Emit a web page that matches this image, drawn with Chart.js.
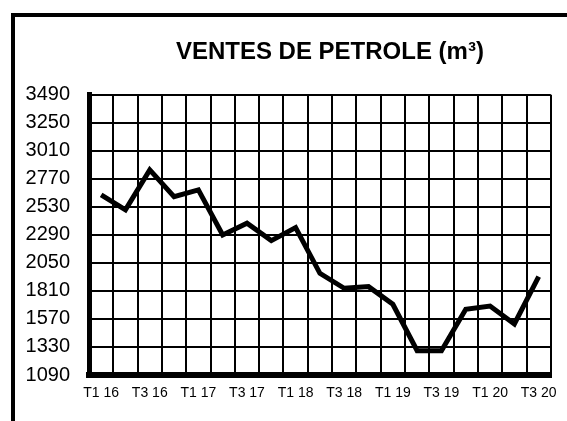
<!DOCTYPE html>
<html>
<head>
    <title>Ventes de petrole</title>
    <script src="https://cdn.jsdelivr.net/npm/chart.js@4.4.1/dist/chart.umd.min.js"></script>
    <style>
        body { margin: 0; background: #fff; }
        #wrap { position: relative; width: 567px; height: 421px; overflow: hidden; }
        #frame { position: absolute; left: 11px; top: 13px; right: -10px; bottom: -10px;
                 border-left: 4px solid #000; border-top: 4px solid #000; }
        #chart { position: absolute; left: 0; top: 0; }
    </style>
</head>
<body>
    <div id="wrap">
        <div id="frame"></div>
        <canvas id="chart" width="567" height="421"></canvas>
    </div>

    <script>
        // trimestres T1 16 .. T3 20
        var quarters = ['T1 16', 'T2 16', 'T3 16', 'T4 16',
                        'T1 17', 'T2 17', 'T3 17', 'T4 17',
                        'T1 18', 'T2 18', 'T3 18', 'T4 18',
                        'T1 19', 'T2 19', 'T3 19', 'T4 19',
                        'T1 20', 'T2 20', 'T3 20'];
        // ventes en m3
        var sales = [2633, 2504, 2847, 2618, 2676, 2290, 2390, 2241, 2353, 1961,
                     1833, 1847, 1696, 1298, 1298, 1653, 1681, 1527, 1933];
        var yMin = 1090;
        var yMax = 3490;
        var yStep = 240;

        // decale un peu le titre vers la droite, comme sur l'original
        var titleShift = {
            id: 'titleShift',
            afterLayout: function(chart) {
                chart.titleBlock.left += 10;
                chart.titleBlock.right += 10;
            }
        };

        var ctx = document.getElementById('chart').getContext('2d');
        var chart = new Chart(ctx, {
            type: 'line',
            data: {
                labels: quarters,
                datasets: [{
                    label: 'Ventes',
                    data: sales,
                    borderColor: '#000',
                    borderWidth: 5,
                    borderJoinStyle: 'miter',
                    pointRadius: 0,
                    tension: 0,
                    fill: false
                }]
            },
            plugins: [titleShift],
            options: {
                responsive: false,
                animation: false,
                layout: { padding: { left: 0, right: 14, top: 0, bottom: 0 } },
                plugins: {
                    legend: { display: false },
                    tooltip: { enabled: false },
                    title: {
                        display: true,
                        fullSize: false,
                        text: 'VENTES DE PETROLE (m³)',
                        color: '#000',
                        font: { family: 'Liberation Sans', size: 24, weight: 'bold' },
                        padding: { top: 38, bottom: 28 }
                    }
                },
                scales: {
                    x: {
                        offset: true,
                        grid: { offset: true, color: '#000', lineWidth: 2, drawTicks: false },
                        border: { color: '#000', width: 6 },
                        ticks: {
                            autoSkip: false,
                            maxRotation: 0,
                            padding: 10,
                            color: '#000',
                            font: { family: 'Liberation Sans', size: 14 },
                            callback: function(v, i) { return i % 2 === 0 ? quarters[i] : ''; }
                        },
                        afterFit: function(scale) { scale.height = 46; }
                    },
                    y: {
                        min: yMin,
                        max: yMax,
                        grid: { color: '#000', lineWidth: 2, drawTicks: false },
                        border: { color: '#000', width: 5 },
                        ticks: {
                            stepSize: yStep,
                            padding: 19,
                            color: '#000',
                            font: { family: 'Liberation Sans', size: 20 },
                            callback: function(v) { return String(v); }
                        },
                        afterFit: function(scale) { scale.width = 89; }
                    }
                }
            }
        });
    </script>
</body>
</html>
